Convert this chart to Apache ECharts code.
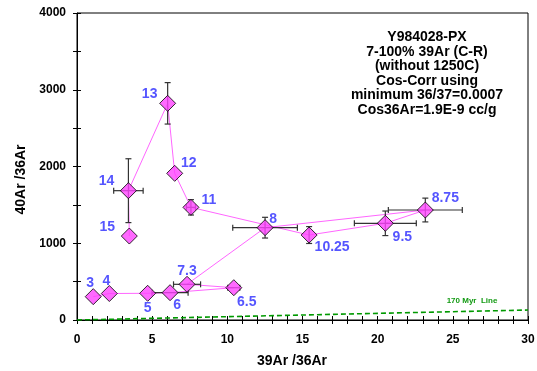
<!DOCTYPE html>
<html>
<head>
<meta charset="utf-8">
<script src="https://cdn.jsdelivr.net/npm/echarts@6/dist/echarts.min.js"></script>
<style>
  html, body { margin: 0; padding: 0; background: #fff; }
  #chart { width: 537px; height: 371px; }
</style>
</head>
<body>
<div id="chart"></div>
<script>
// heating steps (labels)
const steps = ["3", "4", "5", "6", "6.5", "7.3", "8", "8.75", "9.5", "10.25", "11", "12", "13", "14", "15"]
const ar39 = [1.08, 2.15, 4.7, 6.19, 10.43, 7.32, 12.51, 23.17, 20.51, 15.44, 7.58, 6.5, 6.03, 3.42, 3.48]
const ar40 = [304, 345, 348, 356, 421, 465, 1203, 1433, 1260, 1107, 1468, 1911, 2823, 1685, 1094]
const xErr = [0, 0, 0, 1.2, 0.4, 0.9, 2.15, 2.46, 2.06, 0, 0.3, 0, 0, 0.98, 0]
const yErr = [0, 0, 0, 0, 0, 0, 135, 155, 160, 110, 100, 0, 270, 416, 0]

// 170 Myr reference line
const refLine = [[0, 0], [30, 130]]

const infoText = [
  "Y984028-PX",
  "7-100% 39Ar (C-R)",
  "(without 1250C)",
  "Cos-Corr using",
  "minimum 36/37=0.0007",
  "Cos36Ar=1.9E-9 cc/g",
]

// label offsets around each diamond (layout only)
const labelOffsets = [
  [-3, -14], [-3, -12], [0, 15], [7, 12], [13, 14], [0, -13], [8, -9], [20, -12],
  [17, 14], [23, 12], [18, -7], [14, -10], [-18, -9], [-22, -10], [-22, -9],
]

const chart = echarts.init(document.getElementById("chart"))

const points = steps.map((s, i) => ({
  value: [ar39[i], ar40[i]],
  name: s,
  label: { offset: labelOffsets[i] },
}))

const errData = steps.map((s, i) => [ar39[i], ar40[i], xErr[i], yErr[i]])

const font = "Arial, 'Liberation Sans', sans-serif"
const tickStyle = { color: "#000", width: 1 }

const option = {
  animation: false,
  backgroundColor: "#fff",
  grid: {
    left: 77,
    right: 9,
    top: 13,
    bottom: 51,
    containLabel: false,
    outerBoundsMode: "none",
    show: true,
    borderColor: "#000",
    borderWidth: 1,
  },
  xAxis: [
    {
      type: "value",
      min: 0,
      max: 30,
      interval: 5,
      name: "39Ar /36Ar",
      nameLocation: "middle",
      nameGap: 34,
      nameTextStyle: { fontFamily: font, fontWeight: "bold", fontSize: 14, color: "#000", padding: [0, 21, 0, 0] },
      axisLine: { show: true, lineStyle: { color: "#000" } },
      axisTick: { show: true, length: 4, lineStyle: tickStyle },
      minorTick: { show: true, splitNumber: 5, length: 4, lineStyle: tickStyle },
      axisLabel: { fontFamily: font, fontWeight: "bold", fontSize: 12, color: "#000", margin: 14 },
      splitLine: { show: false },
    },
    {
      type: "value",
      min: 0,
      max: 30,
      interval: 5,
      position: "bottom",
      axisLine: { show: false },
      axisTick: { show: true, inside: true, length: 4, lineStyle: tickStyle },
      minorTick: { show: true, splitNumber: 5, length: 4, lineStyle: tickStyle },
      axisLabel: { show: false },
      splitLine: { show: false },
    },
  ],
  yAxis: [
    {
      type: "value",
      min: 0,
      max: 4000,
      interval: 1000,
      name: "40Ar /36Ar",
      nameLocation: "middle",
      nameGap: 48,
      nameTextStyle: { fontFamily: font, fontWeight: "bold", fontSize: 14, color: "#000", padding: [0, 26, 0, 0] },
      axisLine: { show: true, lineStyle: { color: "#000" } },
      axisTick: { show: true, length: 4, lineStyle: tickStyle },
      minorTick: { show: true, splitNumber: 2, length: 4, lineStyle: tickStyle },
      axisLabel: {
        fontFamily: font, fontWeight: "bold", fontSize: 12, color: "#000", margin: 11,
        formatter: (v) => String(v),
      },
      splitLine: { show: false },
    },
    {
      type: "value",
      min: 0,
      max: 4000,
      interval: 1000,
      position: "left",
      axisLine: { show: false },
      axisTick: { show: true, inside: true, length: 4, lineStyle: tickStyle },
      minorTick: { show: true, splitNumber: 2, length: 4, lineStyle: tickStyle },
      axisLabel: { show: false },
      splitLine: { show: false },
    },
  ],
  graphic: [
    {
      type: "text",
      x: 427,
      y: 30,
      style: {
        text: infoText.join("\n"),
        align: "center",
        verticalAlign: "top",
        fontFamily: font,
        fontWeight: "bold",
        fontSize: 14,
        lineHeight: 14.5,
        fill: "#000",
      },
    },
    {
      type: "text",
      x: 472,
      y: 301,
      style: {
        text: "170 Myr  Line",
        align: "center",
        verticalAlign: "middle",
        fontFamily: font,
        fontWeight: "bold",
        fontSize: 8,
        fill: "#139a13",
      },
    },
  ],
  series: [
    {
      name: "170 Myr Line",
      type: "line",
      data: refLine,
      symbol: "none",
      silent: true,
      lineStyle: { color: "#009900", width: 1.6, type: [5, 3] },
      z: 1,
    },
    {
      name: "steps",
      type: "line",
      data: ar39.map((x, i) => [x, ar40[i]]),
      symbol: "none",
      silent: true,
      lineStyle: { color: "#ff66ff", width: 1 },
      z: 2,
    },
    {
      name: "errors",
      type: "custom",
      data: errData,
      silent: true,
      z: 3,
      renderItem: (params, api) => {
        const x = api.value(0)
        const y = api.value(1)
        const ex = api.value(2)
        const ey = api.value(3)
        const children = []
        const style = { stroke: "#333", lineWidth: 1.2 }
        const cap = 3
        if (ex > 0) {
          const a = api.coord([x - ex, y])
          const b = api.coord([x + ex, y])
          children.push({ type: "line", shape: { x1: a[0], y1: a[1], x2: b[0], y2: b[1] }, style })
          children.push({ type: "line", shape: { x1: a[0], y1: a[1] - cap, x2: a[0], y2: a[1] + cap }, style })
          children.push({ type: "line", shape: { x1: b[0], y1: b[1] - cap, x2: b[0], y2: b[1] + cap }, style })
        }
        if (ey > 0) {
          const a = api.coord([x, y - ey])
          const b = api.coord([x, y + ey])
          children.push({ type: "line", shape: { x1: a[0], y1: a[1], x2: b[0], y2: b[1] }, style })
          children.push({ type: "line", shape: { x1: a[0] - cap, y1: a[1], x2: a[0] + cap, y2: a[1] }, style })
          children.push({ type: "line", shape: { x1: b[0] - cap, y1: b[1], x2: b[0] + cap, y2: b[1] }, style })
        }
        return { type: "group", children }
      },
    },
    {
      name: "points",
      type: "scatter",
      data: points,
      symbol: "diamond",
      symbolSize: 16,
      z: 4,
      itemStyle: { color: "#ff44ff", borderColor: "#000", borderWidth: 1 },
      label: {
        show: true,
        position: "inside",
        formatter: (p) => p.name,
        color: "#2b2bff",
        fontFamily: font,
        fontWeight: "bold",
        fontSize: 14,
      },
    },
  ],
}

chart.setOption(option)
</script>
</body>
</html>
